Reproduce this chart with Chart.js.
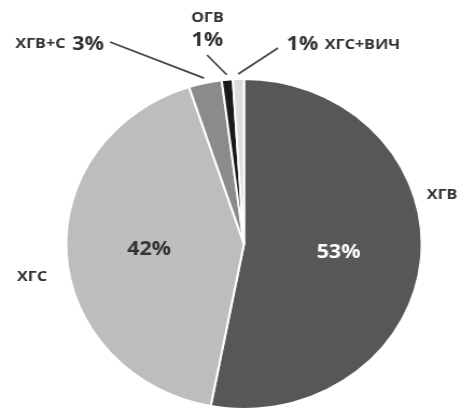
<!DOCTYPE html>
<html><head><meta charset="utf-8">
<script src="https://cdn.jsdelivr.net/npm/chart.js@4/dist/chart.umd.min.js"></script>
<style>
html,body{margin:0;padding:0;background:#fff;overflow:hidden}
#wrap{width:461px;height:412px;position:relative}
#c{position:absolute;left:0;top:0;transform:scaleX(1.0771);transform-origin:0 0}
</style></head>
<body><div id="wrap"><canvas id="c" width="428" height="412"></canvas></div>
<script>
const categories = ['ХГВ', 'ХГС', 'ХГВ+С', 'ОГВ', 'ХГС+ВИЧ'];
const values = [53, 42, 3, 1, 1];
const valueLabels = ['53%', '42%', '3%', '1%', '1%'];
const colors = ['#575757', '#bdbdbd', '#8b8b8b', '#1a1a1a', '#dcdcdc'];

// annotation layout (canvas coordinates, before horizontal stretch)
const labelLayout = [
  {inner: true, color: '#ffffff', name: {x: 410.4, y: 194.5}},
  {inner: true, color: '#333333', name: {x: 29.7, y: 276.5}},
  {name: {x: 37.5, y: 44}, pct: {x: 81.7, y: 44.5}, lineFrom: {x: 102.1, y: 42}},
  {name: {x: 192.6, y: 18}, pct: {x: 192.6, y: 40}, lineFrom: {x: 192.2, y: 55}},
  {pct: {x: 280.8, y: 44.5}, name: {x: 301.5, y: 44.5, align: 'left'}, lineFrom: {x: 258.1, y: 48}}
];

const labelPlugin = {
  id: 'labels',
  afterDraw(chart) {
    const ctx = chart.ctx;
    const meta = chart.getDatasetMeta(0);
    ctx.save();
    ctx.textBaseline = 'middle';
    meta.data.forEach((arc, i) => {
      const L = labelLayout[i];
      const {x, y, startAngle, endAngle, outerRadius} = arc.getProps(['x','y','startAngle','endAngle','outerRadius'], true);
      const mid = (startAngle + endAngle) / 2;
      ctx.fillStyle = '#333';
      if (L.inner) {
        const r = outerRadius * 0.535;
        ctx.font = 'bold 20px "Open Sans"';
        ctx.textAlign = 'center';
        ctx.fillStyle = L.color;
        ctx.fillText(valueLabels[i], x + Math.cos(mid) * r, y + Math.sin(mid) * r);
        ctx.fillStyle = '#333';
        ctx.font = 'bold 15px "Open Sans"';
        ctx.fillText(categories[i], L.name.x, L.name.y);
      } else {
        const r = outerRadius + 5;
        ctx.strokeStyle = '#444';
        ctx.lineWidth = 1.8;
        ctx.beginPath();
        ctx.moveTo(L.lineFrom.x, L.lineFrom.y);
        ctx.lineTo(x + Math.cos(mid) * r, y + Math.sin(mid) * r);
        ctx.stroke();
        ctx.font = 'bold 15px "Open Sans"';
        ctx.textAlign = L.name.align || 'center';
        ctx.fillText(categories[i], L.name.x, L.name.y);
        ctx.font = 'bold 20px "Open Sans"';
        ctx.textAlign = 'center';
        ctx.fillText(valueLabels[i], L.pct.x, L.pct.y);
      }
    });
    ctx.restore();
  }
};

new Chart(document.getElementById('c'), {
  type: 'pie',
  data: {
    labels: categories,
    datasets: [{
      data: values,
      backgroundColor: colors,
      borderColor: '#ffffff',
      borderWidth: 2
    }]
  },
  options: {
    responsive: false,
    devicePixelRatio: 1,
    animation: false,
    layout: {padding: {left: 60, right: 35, top: 78, bottom: 2}},
    plugins: {legend: {display: false}, tooltip: {enabled: false}}
  },
  plugins: [labelPlugin]
});
</script></body></html>
